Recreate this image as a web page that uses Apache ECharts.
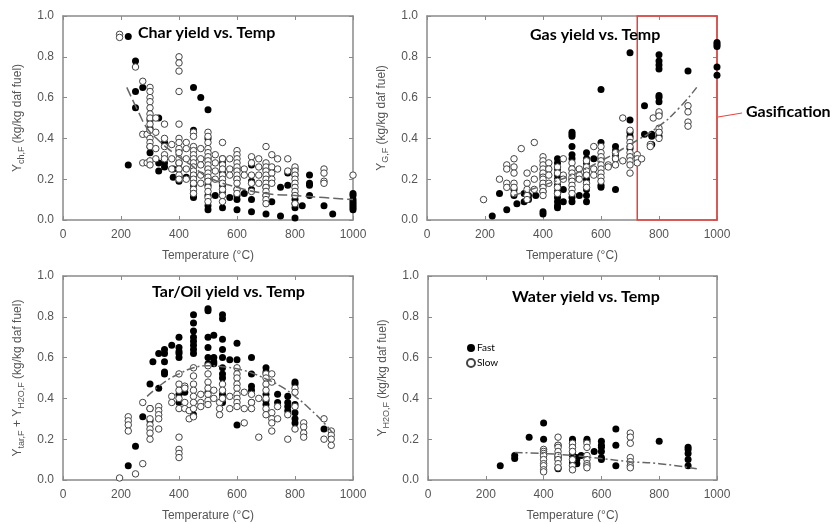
<!DOCTYPE html>
<html>
<head>
<meta charset="utf-8">
<script src="https://cdn.jsdelivr.net/npm/echarts@6/dist/echarts.min.js"></script>
<style>
html,body{margin:0;padding:0;background:#fff;}
#chart{width:837px;height:524px;}
</style>
</head>
<body>
<div id="chart"></div>
<script>
// each row: [temperature, yield, yield, ...]
const charFast = [
    [225, 0.9, 0.27], [250, 0.78, 0.63, 0.55], [275, 0.65], [300, 0.49, 0.45, 0.36, 0.33],
    [330, 0.5, 0.28, 0.24], [350, 0.38, 0.28, 0.26], [380, 0.25, 0.21], [400, 0.34, 0.28, 0.25, 0.21, 0.19],
    [425, 0.21], [450, 0.65, 0.44, 0.22, 0.2, 0.17, 0.14, 0.12, 0.11], [475, 0.6],
    [500, 0.54, 0.4, 0.3, 0.25, 0.2, 0.17, 0.12, 0.07, 0.05], [525, 0.12],
    [550, 0.3, 0.28, 0.23, 0.17, 0.14, 0.06], [575, 0.11], [600, 0.25, 0.2, 0.15, 0.12, 0.1, 0.05],
    [625, 0.13], [650, 0.27, 0.19, 0.15, 0.1, 0.04], [700, 0.25, 0.16, 0.12, 0.03], [720, 0.09],
    [750, 0.16, 0.02], [775, 0.23, 0.17], [800, 0.25, 0.22, 0.12, 0.1, 0.08, 0.06, 0.01], [825, 0.07],
    [850, 0.22, 0.18, 0.17, 0.12], [900, 0.07], [930, 0.03],
    [1000, 0.13, 0.12, 0.1, 0.09, 0.08, 0.07, 0.06, 0.05]
];
const charSlow = [
    [195, 0.91, 0.895], [250, 0.75], [275, 0.68, 0.42, 0.28], [290, 0.42, 0.28],
    [300, 0.65, 0.63, 0.6, 0.58, 0.55, 0.52, 0.5, 0.47, 0.44, 0.4, 0.38, 0.36, 0.29, 0.27],
    [320, 0.5, 0.43, 0.35, 0.3], [350, 0.47, 0.4, 0.36, 0.32, 0.3], [375, 0.37, 0.3, 0.25],
    [400, 0.8, 0.77, 0.73, 0.63, 0.47, 0.4, 0.38, 0.35, 0.33, 0.3, 0.28, 0.25, 0.22, 0.2],
    [425, 0.38, 0.35, 0.3, 0.25, 0.2],
    [450, 0.43, 0.41, 0.36, 0.34, 0.32, 0.3, 0.28, 0.26, 0.24, 0.22, 0.2, 0.18, 0.15, 0.13],
    [475, 0.35, 0.3, 0.27, 0.22, 0.18],
    [500, 0.43, 0.41, 0.38, 0.35, 0.33, 0.31, 0.29, 0.27, 0.25, 0.23, 0.21, 0.19, 0.16, 0.14, 0.11, 0.09],
    [525, 0.32, 0.28, 0.24, 0.2], [550, 0.38, 0.3, 0.27, 0.25, 0.22, 0.2, 0.18, 0.15, 0.12, 0.09],
    [575, 0.3, 0.25, 0.22], [600, 0.34, 0.32, 0.3, 0.28, 0.26, 0.24, 0.22, 0.2, 0.18, 0.15, 0.13],
    [625, 0.25, 0.22], [650, 0.31, 0.28, 0.22, 0.18, 0.14], [675, 0.3, 0.26, 0.22, 0.18],
    [700, 0.36, 0.28, 0.26, 0.24, 0.22, 0.2, 0.18, 0.16, 0.14, 0.12, 0.1, 0.08],
    [720, 0.32, 0.26, 0.23, 0.2, 0.18], [740, 0.3, 0.25], [775, 0.3, 0.24],
    [800, 0.26, 0.24, 0.22, 0.2, 0.18, 0.16, 0.14, 0.12, 0.08], [900, 0.25, 0.23, 0.19, 0.18], [1000, 0.22]
];
const charTrend = [[220, 0.65], [260, 0.53], [290, 0.45], [330, 0.39], [380, 0.33], [450, 0.26], [500, 0.21],
    [600, 0.16], [700, 0.13], [800, 0.12], [900, 0.11], [1000, 0.1]];

const gasFast = [
    [225, 0.02], [250, 0.13], [275, 0.05], [300, 0.15, 0.12], [310, 0.08], [335, 0.13, 0.09],
    [350, 0.12, 0.1], [375, 0.12], [400, 0.22, 0.17, 0.14, 0.04, 0.03],
    [450, 0.3, 0.28, 0.25, 0.22, 0.2, 0.17, 0.14, 0.11, 0.09, 0.07, 0.06], [470, 0.15, 0.09],
    [500, 0.43, 0.42, 0.41, 0.36, 0.32, 0.3, 0.25, 0.2, 0.11, 0.09], [525, 0.12],
    [550, 0.33, 0.3, 0.28, 0.23, 0.2, 0.15, 0.12, 0.09], [575, 0.3], [600, 0.64, 0.38, 0.3, 0.17, 0.16],
    [650, 0.36, 0.34, 0.32, 0.3, 0.15], [700, 0.82, 0.49, 0.43, 0.41, 0.35, 0.31], [750, 0.56, 0.42],
    [775, 0.42, 0.41, 0.37], [800, 0.81, 0.78, 0.76, 0.74, 0.61, 0.6, 0.58, 0.52, 0.43, 0.41],
    [900, 0.73], [1000, 0.87, 0.86, 0.85, 0.75, 0.71]
];
const gasSlow = [
    [195, 0.1], [250, 0.2], [275, 0.27, 0.25, 0.18, 0.16], [300, 0.3, 0.26, 0.23, 0.18, 0.16, 0.13],
    [325, 0.35], [345, 0.23, 0.18, 0.15, 0.12, 0.1], [370, 0.38, 0.25, 0.2, 0.15],
    [400, 0.31, 0.29, 0.27, 0.25, 0.23, 0.21, 0.2, 0.18, 0.16, 0.14, 0.12], [420, 0.28, 0.25, 0.22, 0.18],
    [450, 0.26, 0.23, 0.19, 0.16, 0.13], [470, 0.3, 0.22, 0.2],
    [500, 0.28, 0.25, 0.23, 0.21, 0.19, 0.17, 0.15, 0.13], [525, 0.25, 0.22, 0.2],
    [550, 0.29, 0.26, 0.24, 0.22, 0.18, 0.16], [575, 0.36, 0.25, 0.22],
    [600, 0.36, 0.33, 0.31, 0.29, 0.27, 0.25, 0.23, 0.21, 0.19], [625, 0.27, 0.26], [650, 0.33, 0.3, 0.27],
    [675, 0.5, 0.29], [700, 0.44, 0.4, 0.38, 0.36, 0.33, 0.31, 0.29, 0.27, 0.23], [725, 0.32, 0.3, 0.28],
    [740, 0.3], [770, 0.37, 0.36], [780, 0.5], [800, 0.53, 0.51, 0.45, 0.43, 0.4], [900, 0.56, 0.53, 0.48, 0.46]
];
const gasTrend = [[300, 0.12], [400, 0.17], [500, 0.22], [600, 0.29], [700, 0.37], [800, 0.46], [870, 0.55], [930, 0.65]];

const tarFast = [
    [225, 0.07], [250, 0.165], [275, 0.31], [300, 0.47, 0.35, 0.29], [310, 0.58], [330, 0.62, 0.45],
    [350, 0.64, 0.62, 0.58, 0.53, 0.52], [375, 0.66], [400, 0.7, 0.65, 0.63, 0.62, 0.6, 0.42, 0.38], [420, 0.43],
    [450, 0.81, 0.77, 0.73, 0.7, 0.68, 0.66, 0.64, 0.62, 0.32], [500, 0.84, 0.83, 0.7, 0.65, 0.6, 0.57, 0.43],
    [520, 0.71, 0.6, 0.58, 0.57], [550, 0.81, 0.79, 0.69, 0.64, 0.6, 0.55, 0.52, 0.5, 0.42, 0.4, 0.38],
    [575, 0.59], [600, 0.67, 0.59, 0.27], [650, 0.6, 0.52, 0.46, 0.44, 0.38], [700, 0.55, 0.53, 0.42, 0.39, 0.37],
    [740, 0.42, 0.38], [775, 0.41, 0.38, 0.36, 0.34], [800, 0.48, 0.47, 0.37, 0.33, 0.3, 0.28], [900, 0.25]
];
const tarSlow = [
    [195, 0.01], [225, 0.31, 0.29, 0.27, 0.24], [250, 0.03], [275, 0.38, 0.08], [300, 0.35, 0.3, 0.27, 0.25, 0.23, 0.2],
    [330, 0.36, 0.34, 0.32, 0.3, 0.25], [375, 0.41, 0.38], [400, 0.52, 0.47, 0.44, 0.4, 0.35, 0.21, 0.15, 0.13, 0.11],
    [420, 0.46, 0.45, 0.38, 0.35], [435, 0.34, 0.3], [450, 0.55, 0.51, 0.47, 0.44, 0.41, 0.38, 0.35, 0.31],
    [475, 0.42, 0.38, 0.36], [500, 0.56, 0.52, 0.48, 0.45, 0.42, 0.39, 0.37], [520, 0.44, 0.4], [540, 0.38, 0.35, 0.32],
    [550, 0.47, 0.44, 0.4], [575, 0.41, 0.35], [600, 0.55, 0.52, 0.5, 0.47, 0.45, 0.42, 0.4, 0.38, 0.36],
    [625, 0.43, 0.35, 0.28], [650, 0.42, 0.38, 0.35], [675, 0.4, 0.21], [700, 0.52, 0.5, 0.47, 0.44, 0.4, 0.35, 0.32],
    [720, 0.52, 0.48, 0.33, 0.3, 0.28, 0.24], [740, 0.36, 0.3], [775, 0.32, 0.2], [800, 0.45, 0.43, 0.36, 0.25],
    [830, 0.28, 0.26, 0.23, 0.21], [900, 0.3, 0.2], [925, 0.24, 0.22, 0.2, 0.17]
];
const tarTrend = [[290, 0.41], [350, 0.48], [400, 0.52], [450, 0.55], [500, 0.56], [550, 0.555], [600, 0.545],
    [650, 0.525], [700, 0.495], [750, 0.46], [800, 0.41], [850, 0.35], [900, 0.28], [930, 0.23]];

const waterFast = [
    [250, 0.07], [300, 0.12, 0.105], [350, 0.21], [400, 0.28, 0.2, 0.12], [450, 0.17, 0.12, 0.11, 0.1, 0.06, 0.055],
    [500, 0.2, 0.19, 0.17, 0.13, 0.12, 0.09, 0.08], [515, 0.11, 0.1, 0.08], [530, 0.12], [550, 0.2, 0.19],
    [575, 0.14], [600, 0.19, 0.17, 0.16, 0.14, 0.11, 0.1], [650, 0.25, 0.17, 0.07], [800, 0.19],
    [900, 0.16, 0.15, 0.13, 0.1, 0.07]
];
const waterSlow = [
    [400, 0.15, 0.14, 0.13, 0.12, 0.1, 0.08, 0.07, 0.05, 0.04], [450, 0.21, 0.17, 0.16, 0.14, 0.12, 0.1, 0.08, 0.06],
    [500, 0.18, 0.16, 0.14, 0.1, 0.07, 0.05], [550, 0.18, 0.16, 0.12, 0.1, 0.08, 0.07, 0.06],
    [700, 0.23, 0.21, 0.18, 0.11, 0.09, 0.07, 0.06]
];
const waterTrend = [[300, 0.135], [400, 0.13], [500, 0.12], [600, 0.105], [700, 0.09], [800, 0.08], [930, 0.055]];

const titles = ['Char yield vs. Temp', 'Gas yield vs. Temp', 'Tar/Oil yield vs. Temp', 'Water yield vs. Temp'];
const yNames = [
    '{m|Y}{s|ch,F}{m| (kg/kg daf fuel)}',
    '{m|Y}{s|G,F}{m| (kg/kg daf fuel)}',
    '{m|Y}{s|tar,F}{m| + Y}{s|H2O,F}{m| (kg/kg daf fuel)}',
    '{m|Y}{s|H2O,F}{m| (kg/kg daf fuel)}'
];

function expand(rows) {
    let out = [];
    rows.forEach(function(r) {
        for (let i = 1; i < r.length; i++) out.push([r[0], r[i]]);
    });
    return out;
}

const grids = [
    {left: 63, top: 16, width: 290, height: 204},
    {left: 427, top: 16, width: 290, height: 204},
    {left: 63, top: 276, width: 290, height: 204},
    {left: 428, top: 276, width: 289, height: 204}
];
const titlePos = [[133, 20], [525, 22], [147, 279], [507, 284]];
const panels = [
    [charFast, charSlow, charTrend, [10, 4]],
    [gasFast, gasSlow, gasTrend, [8, 3, 2, 3]],
    [tarFast, tarSlow, tarTrend, [8, 3, 2, 3]],
    [waterFast, waterSlow, waterTrend, [8, 3, 2, 3]]
];

const frame = {show: true, onZero: false, lineStyle: {color: '#8a8a8a', width: 1.5}};
const tick = {show: true, inside: true, length: 4, lineStyle: {color: '#8a8a8a'}};
const labelStyle = {color: '#555', fontSize: 12, fontFamily: 'Liberation Sans'};

let xAxis = [], yAxis = [], series = [], title = [];
grids.forEach(function(g, i) {
    xAxis.push({
        gridIndex: i, type: 'value', min: 0, max: 1000, interval: 200, position: 'bottom',
        axisLine: frame, axisTick: tick, splitLine: {show: false},
        axisLabel: Object.assign({margin: 9, formatter: function(v) { return String(v); }}, labelStyle),
        name: 'Temperature (°C)', nameLocation: 'middle', nameGap: 30,
        nameTextStyle: labelStyle
    });
    xAxis.push({
        gridIndex: i, type: 'value', min: 0, max: 1000, interval: 200, position: 'top',
        axisLine: frame, axisTick: tick, splitLine: {show: false}, axisLabel: {show: false}
    });
    yAxis.push({
        gridIndex: i, type: 'value', min: 0, max: 1, interval: 0.2, position: 'left',
        axisLine: frame, axisTick: tick, splitLine: {show: false},
        axisLabel: Object.assign({margin: 9, formatter: function(v) { return v.toFixed(1); }}, labelStyle),
        name: yNames[i], nameLocation: 'middle', nameGap: 37,
        nameTextStyle: {
            color: '#555', fontFamily: 'Liberation Sans',
            rich: {
                m: {fontSize: 12, color: '#555', fontFamily: 'Liberation Sans', lineHeight: 16},
                s: {fontSize: 9, color: '#555', fontFamily: 'Liberation Sans', lineHeight: 16, padding: [6, 0, 0, 0], verticalAlign: 'bottom'}
            }
        }
    });
    yAxis.push({
        gridIndex: i, type: 'value', min: 0, max: 1, interval: 0.2, position: 'right',
        axisLine: frame, axisTick: tick, splitLine: {show: false}, axisLabel: {show: false}
    });

    const p = panels[i];
    series.push({
        type: 'scatter', name: 'Fast', xAxisIndex: 2 * i, yAxisIndex: 2 * i,
        data: expand(p[0]), symbol: 'circle', symbolSize: 7,
        itemStyle: {color: '#000', opacity: 1}
    });
    series.push({
        type: 'scatter', name: 'Slow', xAxisIndex: 2 * i, yAxisIndex: 2 * i,
        data: expand(p[1]), symbol: 'circle', symbolSize: 6.5,
        itemStyle: {color: '#fff', borderColor: '#444', borderWidth: 1, opacity: 1}
    });
    let trend = {
        type: 'line', name: 'trend' + i, xAxisIndex: 2 * i, yAxisIndex: 2 * i,
        data: p[2], smooth: true, showSymbol: false, z: 5,
        lineStyle: {color: '#666', width: 1.5, type: p[3]}
    };
    if (i === 1) {
        // gasification region box
        trend.clip = false;
        trend.markArea = {
            silent: true,
            itemStyle: {color: 'rgba(0,0,0,0)', borderColor: '#e8413c', borderWidth: 1.5},
            data: [[{xAxis: 725, yAxis: 1.01}, {xAxis: 1002, yAxis: -0.005}]]
        };
    }
    series.push(trend);

    title.push({
        text: titles[i], left: titlePos[i][0], top: titlePos[i][1],
        textStyle: {fontFamily: 'Lato', fontWeight: 'bold', fontSize: 16, color: '#000'}
    });
});

const chart = echarts.init(document.getElementById('chart'));
chart.setOption({
    animation: false,
    backgroundColor: '#fff',
    title: title,
    grid: grids,
    xAxis: xAxis,
    yAxis: yAxis,
    series: series,
    legend: {
        data: ['Fast', 'Slow'], orient: 'vertical', left: 461, top: 338,
        itemWidth: 8, itemHeight: 8, itemGap: 5,
        textStyle: {fontFamily: 'Lato', fontSize: 10, color: '#000', padding: [0, 0, 0, -3]}
    },
    graphic: [
        {type: 'line', shape: {x1: 718, y1: 117, x2: 742, y2: 113}, style: {stroke: '#e8413c', lineWidth: 1}},
        {type: 'text', left: 746, top: 104, style: {text: 'Gasification', font: 'bold 16px Lato', fill: '#000'}}
    ]
});
</script>
</body>
</html>
